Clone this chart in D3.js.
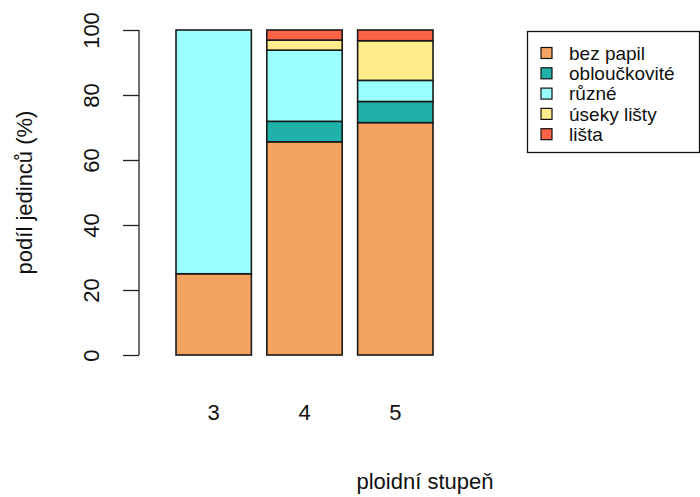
<!DOCTYPE html>
<html>
<head>
<meta charset="utf-8">
<script src="https://cdn.jsdelivr.net/npm/d3@7"></script>
<style>
  html, body { margin: 0; padding: 0; background: #fff; }
  svg { display: block; font-family: "Liberation Sans", Arial, sans-serif; }
</style>
</head>
<body>
<svg id="chart" width="700" height="497"></svg>
<script>
// Ploidy levels on the x axis
const ploidy = ["3", "4", "5"];
// Papillae types, stacked bottom to top
const types = ["bez papil", "obloučkovité", "různé", "úseky lišty", "lišta"];
const typeColors = ["#F4A460", "#20B2AA", "#99FFFF", "#FFEC8B", "#FF6347"];
// Percentage of individuals per ploidy level, one array per type
const bezPapil = [25, 65.6, 71.5];
const obloučkovité = [0, 6.3, 6.5];
const různé = [75, 21.9, 6.5];
const úsekyLišty = [0, 3.1, 12.2];
const lišta = [0, 3.1, 3.3];
const yTicks = [0, 20, 40, 60, 80, 100];

const seriesValues = [bezPapil, obloučkovité, různé, úsekyLišty, lišta];
const rows = ploidy.map((p, i) => {
  const r = { ploidy: p };
  types.forEach((t, k) => { r[t] = seriesValues[k][i]; });
  return r;
});

const svg = d3.select("#chart");
const plotTop = 30, plotBottom = 355;
const barLeft = 176, barRight = 433;
const font = "Liberation Sans, Arial, sans-serif";

const y = d3.scaleLinear().domain([0, 100]).range([plotBottom, plotTop]);
const x = d3.scaleBand().domain(ploidy)
  .range([barLeft, barRight]).paddingInner(0.17).paddingOuter(0);

const layers = d3.stack().keys(types)(rows);

svg.append("g").selectAll("g")
  .data(layers)
  .join("g")
  .attr("fill", (d, i) => typeColors[i])
  .selectAll("rect")
  .data(d => d)
  .join("rect")
  .attr("x", d => x(d.data.ploidy))
  .attr("width", x.bandwidth())
  .attr("y", d => y(d[1]))
  .attr("height", d => y(d[0]) - y(d[1]))
  .attr("stroke", d => (d[1] - d[0]) > 0 ? "#1a1a1a" : "none")
  .attr("stroke-width", 1.6);

// Y axis with rotated tick labels
const yAxis = d3.axisLeft(y).tickValues(yTicks).tickSize(16).tickPadding(0);
const gy = svg.append("g").attr("transform", "translate(139,0)").call(yAxis);
gy.select(".domain").attr("d", `M0,${y(0)}V${y(100)}`).attr("stroke", "#222").attr("stroke-width", 1.3);
gy.selectAll(".tick line").attr("stroke", "#222").attr("stroke-width", 1.3);
gy.selectAll(".tick text")
  .attr("font-size", 22)
  .attr("fill", "#111")
  .attr("font-family", font)
  .attr("text-anchor", "middle")
  .attr("x", null).attr("y", null)
  .attr("transform", "translate(-48,0) rotate(-90)")
  .attr("dy", "0.36em");

// X category labels
svg.append("g").selectAll("text")
  .data(ploidy)
  .join("text")
  .attr("x", d => x(d) + x.bandwidth() / 2)
  .attr("y", 420)
  .attr("text-anchor", "middle")
  .attr("font-size", 22)
  .attr("fill", "#111")
  .text(d => d);

// Axis titles
svg.append("text")
  .attr("x", 425).attr("y", 489)
  .attr("text-anchor", "middle")
  .attr("font-size", 22).attr("fill", "#111")
  .text("ploidní stupeň");

svg.append("text")
  .attr("transform", `translate(32,${(plotTop + plotBottom) / 2}) rotate(-90)`)
  .attr("text-anchor", "middle")
  .attr("font-size", 22).attr("fill", "#111")
  .text("podíl jedinců (%)");

// Legend
const legend = svg.append("g");
legend.append("rect")
  .attr("x", 527.5).attr("y", 31.5).attr("width", 172).attr("height", 121)
  .attr("fill", "#fff").attr("stroke", "#111").attr("stroke-width", 1.3);
const li = legend.selectAll("g.item")
  .data(types)
  .join("g")
  .attr("class", "item")
  .attr("transform", (d, i) => `translate(0,${53 + i * 20.3})`);
li.append("rect")
  .attr("x", 541).attr("y", -5.5).attr("width", 11).attr("height", 11)
  .attr("fill", (d, i) => typeColors[i])
  .attr("stroke", "#111").attr("stroke-width", 1.2);
li.append("text")
  .attr("x", 569).attr("y", 0).attr("dy", "0.35em")
  .attr("font-size", 19).attr("fill", "#111")
  .text(d => d);
</script>
</body>
</html>
